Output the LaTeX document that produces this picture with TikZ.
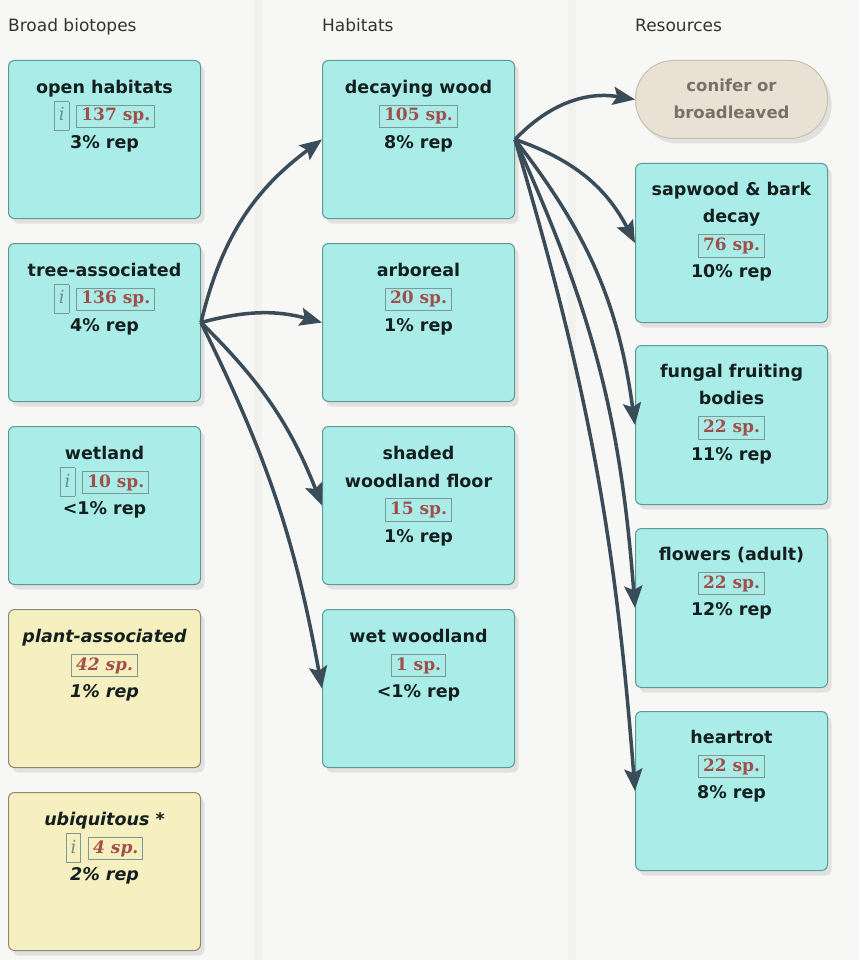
\documentclass[tikz,border=0pt]{standalone}
\usepackage{fontspec}
\setmainfont{DejaVu Sans}
\newfontfamily\badgefont{DejaVu Serif}
\usetikzlibrary{arrows.meta,shadows,positioning}

\definecolor{boxcyan}{HTML}{AAECE7}
\definecolor{boxline}{HTML}{5E9A92}
\definecolor{boxyellow}{HTML}{F6EFBF}
\definecolor{yellowline}{HTML}{8C8A6C}
\definecolor{pillfill}{HTML}{E9E1D4}
\definecolor{pillline}{HTML}{C8C0AE}
\definecolor{pilltext}{HTML}{7A7068}
\definecolor{spred}{HTML}{A04F4B}
\definecolor{badgeline}{HTML}{7C9995}
\definecolor{igrey}{HTML}{6F8F8B}
\definecolor{ink}{HTML}{14201F}
\definecolor{headink}{HTML}{333333}
\definecolor{slate}{HTML}{3B4C59}
\definecolor{paper}{HTML}{F7F7F5}
\definecolor{stripe}{HTML}{F1F1EE}

\setlength{\fboxrule}{0.9pt}
\newcommand{\spbadge}[2][boxcyan]{{\setlength{\fboxsep}{2.5pt}\fcolorbox{badgeline}{#1}{\kern1.5pt\fontsize{17}{20}\badgefont\bfseries\textcolor{spred}{#2}\kern1.5pt}}}
\newcommand{\ibadge}[1][boxcyan]{{\setlength{\fboxsep}{2pt}\fcolorbox{badgeline}{#1}{\rule[-7pt]{0pt}{24pt}\kern2pt\fontsize{18}{20}\badgefont\mdseries\itshape\textcolor{igrey}{i}\kern2pt}}}

\tikzset{
  biotope/.style={draw=boxline, fill=boxcyan, line width=1pt, rounded corners=6pt,
    minimum width=192pt, minimum height=158pt, anchor=north west,
    drop shadow={shadow xshift=4pt, shadow yshift=-5pt, opacity=.18}},
  plantbox/.style={biotope, fill=boxyellow, draw=yellowline},
  resbox/.style={biotope, minimum height=159pt},
  pill/.style={biotope, fill=pillfill, draw=pillline, minimum height=78pt, rounded corners=38pt},
  info/.style={anchor=north, align=center, inner sep=0pt, text=ink,
    font=\fontsize{17.5}{27.5}\selectfont\bfseries},
  head/.style={anchor=base west, inner sep=0pt, text=headink, font=\fontsize{17}{20}\selectfont},
  link/.style={draw=slate, line width=3.5pt, -{Stealth[length=22pt,width=18pt,inset=4pt]}},
}

\begin{document}
\begin{tikzpicture}[x=1pt,y=-1pt]
\useasboundingbox (0,0) rectangle (859,960);
\fill[paper] (0,0) rectangle (859,960);
\foreach \s in {254,568}
  \fill[stripe] (\s,0) rectangle ++(8,960);
%\draw[help lines,step=50pt] (0,0) grid (859,960);

% column heads
\node[head] (hBroad) at (8,32) {Broad biotopes};
\node[head] (hHab) at (322,32) {Habitats};
\node[head] (hRes) at (635,32) {Resources};

% broad biotopes
\node[biotope] (open) at (8,60) {};
\node[info] (openT) at ([yshift=-20pt]open.north) {open habitats\\\ibadge\hspace{7pt}\spbadge{137 sp.}\\3\% rep};
\node[biotope] (tree) at (8,243) {};
\node[info] (treeT) at ([yshift=-20pt]tree.north) {tree-associated\\\ibadge\hspace{7pt}\spbadge{136 sp.}\\4\% rep};
\node[biotope] (wet) at (8,426) {};
\node[info] (wetT) at ([yshift=-20pt]wet.north) {wetland\\\ibadge\hspace{7pt}\spbadge{10 sp.}\\<1\% rep};
\node[plantbox] (plant) at (8,609) {};
\node[info] (plantT) at ([yshift=-20pt]plant.north) {\itshape plant-associated\\\spbadge[boxyellow]{\itshape 42 sp.}\\\itshape 1\% rep};
\node[plantbox] (ubiq) at (8,792) {};
\node[info] (ubiqT) at ([yshift=-20pt]ubiq.north) {\itshape ubiquitous *\\\ibadge[boxyellow]\hspace{7pt}\spbadge[boxyellow]{\itshape 4 sp.}\\\itshape 2\% rep};

% habitats
\node[biotope] (decay) at (322,60) {};
\node[info] (decayT) at ([yshift=-20pt]decay.north) {decaying wood\\\spbadge{105 sp.}\\8\% rep};
\node[biotope] (arbo) at (322,243) {};
\node[info] (arboT) at ([yshift=-20pt]arbo.north) {arboreal\\\spbadge{20 sp.}\\1\% rep};
\node[biotope] (shade) at (322,426) {};
\node[info] (shadeT) at ([yshift=-20pt]shade.north) {shaded\\woodland floor\\\spbadge{15 sp.}\\1\% rep};
\node[biotope] (wetw) at (322,609) {};
\node[info] (wetwT) at ([yshift=-20pt]wetw.north) {wet woodland\\\spbadge{1 sp.}\\<1\% rep};

% resources
\node[pill] (conif) at (635,60) {};
\node[info,text=pilltext,font=\fontsize{16.5}{26.5}\selectfont\bfseries] (conifT) at ([yshift=-19pt]conif.north) {conifer or\\broadleaved};
\node[resbox] (sap) at (635,163) {};
\node[info] (sapT) at ([yshift=-19pt]sap.north) {sapwood \& bark\\decay\\\spbadge{76 sp.}\\10\% rep};
\node[resbox] (fung) at (635,345) {};
\node[info] (fungT) at ([yshift=-19pt]fung.north) {fungal fruiting\\bodies\\\spbadge{22 sp.}\\11\% rep};
\node[resbox] (flow) at (635,528) {};
\node[info] (flowT) at ([yshift=-19pt]flow.north) {flowers (adult)\\\spbadge{22 sp.}\\12\% rep};
\node[resbox] (heart) at (635,711) {};
\node[info] (heartT) at ([yshift=-19pt]heart.north) {heartrot\\\spbadge{22 sp.}\\8\% rep};

% links
\foreach \t/\b in {decay/20, arbo/15, shade/12, wetw/8}
  \draw[link] (tree.east) to[bend left=\b] (\t.west);
\foreach \t/\b in {conif/28, sap/22, fung/15, flow/10, heart/6}
  \draw[link] (decay.east) to[bend left=\b] (\t.west);
\end{tikzpicture}
\end{document}
